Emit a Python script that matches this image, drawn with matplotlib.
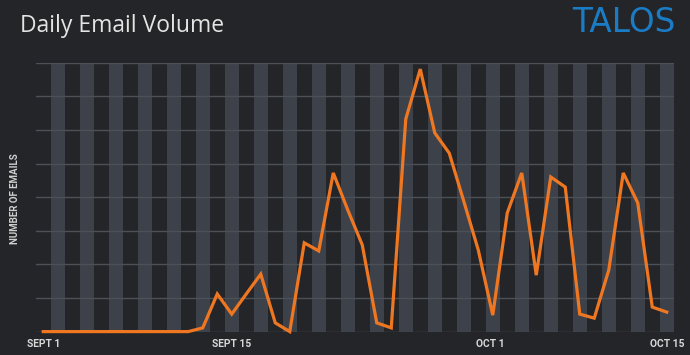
import matplotlib
matplotlib.use('Agg')
import matplotlib.pyplot as plt

# daily email volume, Sept 1 .. Oct 14 (one value per day, arbitrary units = gridlines)
days = list(range(44))
volume = [0, 0, 0, 0, 0, 0, 0, 0, 0, 0, 0,
          0.11, 1.12, 0.52, 1.12, 1.71, 0.26, 0.0, 2.64, 2.40, 4.72,
          3.62, 2.58, 0.26, 0.11, 6.32, 7.81, 5.91, 5.31, 3.88, 2.43,
          0.49, 3.53, 4.72, 1.68, 4.60, 4.30, 0.52, 0.40, 1.83, 4.72,
          3.83, 0.73, 0.58]

tick_pos = [0, 13, 30.8, 43]
tick_labels = ['SEPT 1', 'SEPT 15', 'OCT 1', 'OCT 15']

BG = '#242528'
STRIPE = '#3d424a'
GRID = '#4c5057'
ORANGE = '#ef7722'

W, H = 690, 355
fig = plt.figure(figsize=(W/100, H/100), dpi=100, facecolor=BG)
ax = fig.add_axes([36/W, 23.4/H, (674-36)/W, (331.6-62.7)/H])
ax.set_facecolor(BG)

# alternating day stripes
for d in days:
    if d % 2 == 1:
        ax.axvspan(d-0.5, d+0.5, color=STRIPE, lw=0, zorder=0)

for g in range(0, 9):
    ax.axhline(g, color=GRID, lw=1.0, zorder=1)

ax.plot(days, volume, color=ORANGE, lw=2.3, zorder=3, clip_on=False,
        solid_joinstyle='miter')

ax.set_xlim(-0.5, 43.5)
ax.set_ylim(0, 8)
for s in ax.spines.values():
    s.set_visible(False)
ax.set_yticks([])
ax.set_xticks(tick_pos)
ax.set_xticklabels(tick_labels, fontfamily='Roboto', fontweight='bold',
                   fontsize=7.4, color='#d8d8d8')
ax.tick_params(axis='x', length=0, pad=5.5)

fig.text(15/W, 1-199/H, 'NUMBER OF EMAILS', rotation=90, ha='center', va='center',
         fontfamily='Roboto', fontweight='bold', fontsize=7.0, color='#d0d0d0')

fig.text(20/W, 1-32/H, 'Daily Email Volume', ha='left', va='baseline',
         fontfamily='Open Sans', fontweight='medium', fontsize=16.5, color='#e4e4e4')

fig.text(675/W, 1-32/H, 'TALOS', ha='right', va='baseline',
         fontfamily='DejaVu Sans', fontsize=23.5, color='#1b7cc6')

fig.savefig('out.png', dpi=100, facecolor=BG)
